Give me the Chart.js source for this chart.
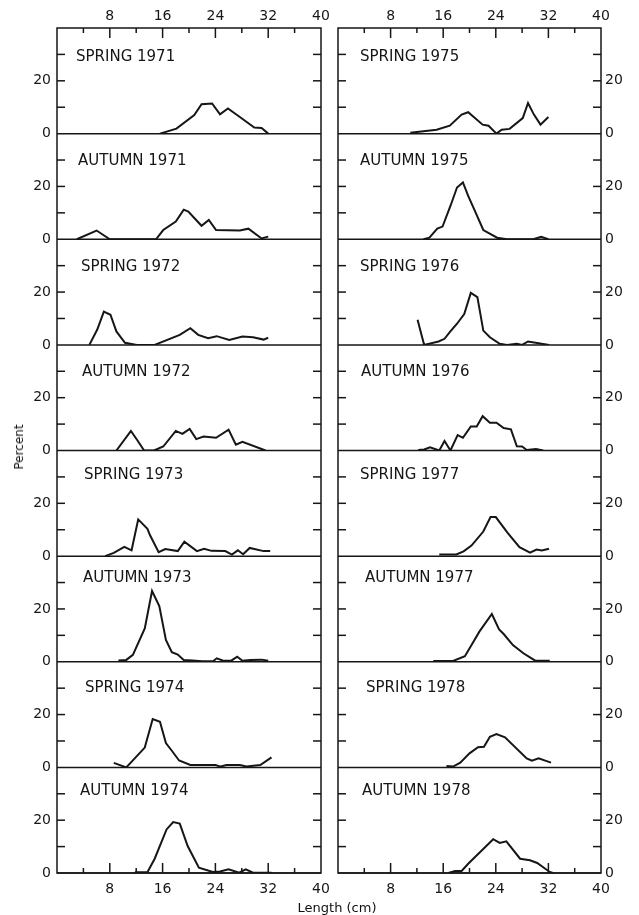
<!DOCTYPE html>
<html>
<head>
<meta charset="utf-8">
<script src="https://cdn.jsdelivr.net/npm/chart.js@4"></script>
<style>
  body { margin: 0; background: #fff; }
  #fig { position: relative; width: 639px; height: 915px; }
  canvas { position: absolute; top: 0; }
  #left { left: 0; }
  #right { left: 330px; }
  .lbl { position: absolute; font-family: "DejaVu Sans"; color: #111; white-space: nowrap; }
  #ylab { font-size: 12px; left: 19px; top: 447px; transform: translate(-50%, -50%) rotate(-90deg); }
  #xlab { font-size: 13px; left: 337px; top: 907px; transform: translate(-50%, -50%); }
</style>
</head>
<body>
<div id="fig">
  <canvas id="left" width="330" height="915"></canvas>
  <canvas id="right" width="309" height="915"></canvas>
  <div class="lbl" id="ylab">Percent</div>
  <div class="lbl" id="xlab">Length (cm)</div>
</div>
<script>
// Length (cm) / percent pairs
const spring1971Len = [15.6, 18.1, 20.8, 21.9, 23.5, 24.7, 25.9, 27.7, 29.9, 31.0, 32.0];
const spring1971Pct = [0, 1.9, 7.0, 11.1, 11.4, 7.3, 9.5, 6.3, 2.3, 2.1, 0];
const autumn1971Len = [3.0, 6.0, 8.0, 15.0, 16.1, 18.0, 19.2, 19.9, 21.9, 23.0, 24.1, 27.7, 29.0, 31.0, 32.0];
const autumn1971Pct = [0, 3.3, 0, 0, 3.5, 6.7, 11.2, 10.5, 5.1, 7.3, 3.5, 3.3, 4.0, 0.3, 1.0];
const spring1972Len = [4.9, 6.1, 7.1, 8.1, 9.0, 10.3, 12.1, 14.8, 18.6, 20.2, 21.4, 22.9, 24.2, 26.1, 28.1, 29.7, 31.3, 32.0];
const spring1972Pct = [0, 5.8, 12.6, 11.4, 5.1, 0.8, 0, 0, 3.8, 6.3, 3.8, 2.5, 3.3, 1.9, 3.2, 2.9, 2.0, 2.7];
const autumn1972Len = [9.0, 11.2, 12.2, 13.2, 14.7, 16.1, 18.0, 19.0, 20.1, 21.1, 22.2, 24.1, 26.0, 27.1, 28.1, 31.6];
const autumn1972Pct = [0, 7.4, 3.8, 0, 0, 1.5, 7.4, 6.3, 8.2, 4.3, 5.3, 4.8, 7.9, 2.2, 3.3, 0];
const spring1973Len = [7.3, 8.6, 10.2, 11.3, 12.3, 13.7, 14.1, 15.4, 16.4, 18.3, 19.3, 21.2, 22.3, 23.4, 25.5, 26.5, 27.4, 28.2, 29.2, 31.3, 32.3];
const spring1973Pct = [0, 1.2, 3.5, 2.2, 13.9, 10.3, 7.9, 1.5, 2.7, 1.9, 5.5, 1.9, 2.8, 2.0, 1.9, 0.6, 2.2, 0.7, 3.1, 1.9, 1.9];
const autumn1973Len = [9.3, 10.5, 11.5, 13.3, 14.4, 15.5, 16.5, 17.4, 18.3, 19.2, 20.5, 22.0, 23.7, 24.2, 25.1, 26.4, 27.3, 28.1, 29.3, 31.0, 32.0];
const autumn1973Pct = [0.5, 0.7, 2.6, 12.6, 26.8, 21.1, 8.3, 3.6, 2.7, 0.7, 0.5, 0.2, 0.3, 1.3, 0.5, 0.4, 1.9, 0.4, 0.7, 0.8, 0.4];
const spring1974Len = [8.6, 10.5, 13.3, 14.5, 15.6, 16.5, 17.4, 18.5, 20.2, 24.0, 24.8, 25.7, 27.7, 28.7, 30.8, 32.5];
const spring1974Pct = [1.7, 0, 7.5, 18.3, 17.3, 9.2, 6.3, 2.6, 0.9, 0.9, 0.3, 0.9, 0.9, 0.3, 0.9, 3.8];
const autumn1974Len = [11.8, 13.7, 14.8, 16.6, 17.6, 18.6, 19.8, 21.5, 23.6, 24.7, 26.0, 27.6, 28.6, 29.7, 32.5];
const autumn1974Pct = [0.3, 0.3, 5.4, 16.5, 19.3, 18.7, 10.2, 2.0, 0.4, 0.6, 1.4, 0.1, 1.4, 0.1, 0.1];

const spring1975Len = [11.0, 15.0, 17.0, 18.8, 19.8, 22.0, 22.9, 24.1, 24.9, 26.1, 28.1, 28.9, 29.8, 30.8, 32.0];
const spring1975Pct = [0.3, 1.5, 3.0, 7.2, 8.1, 3.4, 3.0, 0, 1.5, 1.8, 5.9, 11.6, 7.2, 3.4, 6.3];
const autumn1975Len = [13.0, 13.9, 15.1, 15.9, 17.1, 18.1, 19.0, 19.8, 20.7, 22.1, 24.2, 25.7, 29.7, 30.9, 32.0];
const autumn1975Pct = [0, 0.6, 4.0, 4.8, 12.6, 19.6, 21.5, 16.4, 11.4, 3.5, 0.6, 0, 0, 0.9, 0];
const spring1976Len = [12.1, 13.1, 15.3, 16.2, 17.0, 18.1, 19.2, 20.2, 21.2, 22.1, 23.1, 24.6, 25.7, 27.2, 28.0, 28.9, 31.0, 32.1];
const spring1976Pct = [9.5, 0, 1.3, 2.3, 4.8, 8.0, 11.7, 19.7, 18.1, 5.4, 2.9, 0.4, 0, 0.4, 0, 1.3, 0.4, 0];
const autumn1976Len = [12.2, 13.1, 14.0, 15.4, 16.2, 17.1, 18.2, 19.0, 20.2, 21.1, 22.0, 23.1, 24.1, 25.2, 26.3, 27.2, 28.0, 28.7, 30.1, 31.2];
const autumn1976Pct = [0.2, 0.4, 1.2, 0, 3.6, 0, 5.8, 4.8, 9.1, 9.1, 13.0, 10.5, 10.5, 8.5, 8.0, 1.6, 1.5, 0.2, 0.6, 0];
const spring1977Len = [15.4, 18.0, 19.1, 20.3, 22.1, 23.2, 24.0, 25.8, 27.6, 29.2, 30.2, 31.0, 32.1];
const spring1977Pct = [0.6, 0.6, 1.8, 4.0, 9.3, 14.8, 14.8, 8.8, 3.4, 1.3, 2.5, 2.1, 2.8];
const autumn1977Len = [14.5, 17.5, 19.3, 20.6, 21.5, 23.4, 24.5, 25.2, 26.6, 28.2, 30.0, 32.2];
const autumn1977Pct = [0.3, 0.3, 2.1, 7.6, 11.4, 18.1, 12.2, 10.5, 6.3, 3.2, 0.4, 0.4];
const spring1978Len = [16.5, 17.5, 18.6, 20.0, 21.3, 22.2, 23.1, 24.1, 25.4, 28.7, 29.5, 30.5, 32.4];
const spring1978Pct = [0.5, 0.3, 1.8, 5.3, 7.6, 7.8, 11.6, 12.6, 11.4, 3.4, 2.5, 3.4, 1.8];
const autumn1978Len = [16.8, 17.8, 18.8, 19.8, 23.6, 24.6, 25.6, 27.7, 29.2, 30.3, 32.2, 32.7];
const autumn1978Pct = [0, 0.8, 0.8, 3.5, 12.8, 11.4, 12.0, 5.4, 4.8, 3.8, 0.4, 0];

const leftTitles = ['SPRING 1971', 'AUTUMN 1971', 'SPRING 1972', 'AUTUMN 1972', 'SPRING 1973', 'AUTUMN 1973', 'SPRING 1974', 'AUTUMN 1974'];
const rightTitles = ['SPRING 1975', 'AUTUMN 1975', 'SPRING 1976', 'AUTUMN 1976', 'SPRING 1977', 'AUTUMN 1977', 'SPRING 1978', 'AUTUMN 1978'];
const leftSeries = [
    [spring1971Len, spring1971Pct], [autumn1971Len, autumn1971Pct],
    [spring1972Len, spring1972Pct], [autumn1972Len, autumn1972Pct],
    [spring1973Len, spring1973Pct], [autumn1973Len, autumn1973Pct],
    [spring1974Len, spring1974Pct], [autumn1974Len, autumn1974Pct]
];
const rightSeries = [
    [spring1975Len, spring1975Pct], [autumn1975Len, autumn1975Pct],
    [spring1976Len, spring1976Pct], [autumn1976Len, autumn1976Pct],
    [spring1977Len, spring1977Pct], [autumn1977Len, autumn1977Pct],
    [spring1978Len, spring1978Pct], [autumn1978Len, autumn1978Pct]
];
const lengthTicks = [0, 8, 16, 24, 32, 40];
const percentLabels = [0, 20];

// layout / style
const INK = '#161616';
const FONT = '"DejaVu Sans"';
const leftIndent = [19, 21, 24, 25, 27, 26, 28, 23];
const rightIndent = [22, 22, 22, 23, 22, 27, 28, 24];
const titleDrop = [29.5, 27.2, 27.5, 27, 25, 22.4, 26, 24];

// frames, separators, inward ticks and panel titles
const panelFrame = {
    id: 'panelFrame',
    beforeDatasetsDraw(chart, args, opts) {
        const ctx = chart.ctx;
        const a = chart.chartArea;
        const line = (x1, y1, x2, y2) => {
            ctx.beginPath();
            ctx.moveTo(x1, y1);
            ctx.lineTo(x2, y2);
            ctx.stroke();
        };
        ctx.save();
        ctx.strokeStyle = INK;
        ctx.lineWidth = 1.5;
        ctx.strokeRect(a.left, a.top, a.width, a.height);

        opts.titles.forEach((t, i) => {
            const ys = chart.scales['p' + i];
            const y0 = ys.getPixelForValue(0);
            line(a.left, y0, a.right, y0);
            [10, 20, 30].forEach(v => {
                const py = ys.getPixelForValue(v);
                line(a.left, py, a.left + 8, py);
                line(a.right - 8, py, a.right, py);
            });
        });

        const xs = chart.scales.x;
        for (let v = 4; v < 40; v += 4) {
            const px = xs.getPixelForValue(v);
            const len = v % 8 === 0 ? 10 : 5;
            line(px, a.top, px, a.top + len);
            line(px, a.bottom, px, a.bottom - len);
        }

        ctx.font = '15px ' + FONT;
        ctx.fillStyle = INK;
        ctx.textBaseline = 'middle';
        opts.titles.forEach((t, i) => {
            const ys = chart.scales['p' + i];
            ctx.fillText(t, a.left + opts.indent[i], ys.top + titleDrop[i]);
        });
        ctx.restore();
    }
};

function fixSize(prop, size) {
    return function(s) {
        s[prop] = size;
        s.paddingLeft = 0;
        s.paddingRight = 0;
        s.paddingTop = 0;
        s.paddingBottom = 0;
    };
}

function lengthAxis(position, height, pad) {
    return {
        type: 'linear',
        position: position,
        min: 0,
        max: 40,
        afterBuildTicks: s => { s.ticks = lengthTicks.map(v => ({ value: v })); },
        ticks: {
            autoSkip: false,
            maxRotation: 0,
            padding: pad,
            color: INK,
            font: { family: FONT, size: 14 },
            callback: v => v === 0 ? '' : v
        },
        grid: { display: false, drawTicks: false },
        border: { display: false },
        afterFit: fixSize('height', height)
    };
}

function createColumn(canvasId, series, titles, indent, side) {
    const scales = {
        x: lengthAxis('bottom', 42, 8),
        xTop: lengthAxis('top', 28, 3)
    };
    series.forEach((s, i) => {
        scales['p' + i] = {
            type: 'linear',
            position: side,
            stack: 'panels',
            stackWeight: 1,
            weight: side === 'left' ? 8 - i : i,
            min: 0,
            max: 40,
            ticks: {
                stepSize: 10,
                autoSkip: false,
                padding: side === 'left' ? 6 : 4,
                color: INK,
                font: { family: FONT, size: 14 },
                callback: v => percentLabels.includes(v) ? v : ''
            },
            grid: { display: false, drawTicks: false },
            border: { display: false },
            afterFit: fixSize('width', side === 'left' ? 57 : 38)
        };
    });

    return new Chart(document.getElementById(canvasId), {
        type: 'line',
        data: {
            datasets: series.map((s, i) => ({
                label: titles[i],
                data: s[0].map((len, j) => ({ x: len, y: s[1][j] })),
                xAxisID: 'x',
                yAxisID: 'p' + i,
                borderColor: INK,
                borderWidth: 2,
                pointRadius: 0,
                tension: 0,
                fill: false
            }))
        },
        options: {
            responsive: false,
            animation: false,
            layout: { padding: side === 'left' ? { left: 0, right: 9, top: 0, bottom: 0 } : { left: 8, right: 0, top: 0, bottom: 0 } },
            scales: scales,
            plugins: {
                legend: { display: false },
                tooltip: { enabled: false },
                panelFrame: { titles: titles, indent: indent }
            }
        },
        plugins: [panelFrame]
    });
}

createColumn('left', leftSeries, leftTitles, leftIndent, 'left');
createColumn('right', rightSeries, rightTitles, rightIndent, 'right');
</script>
</body>
</html>
